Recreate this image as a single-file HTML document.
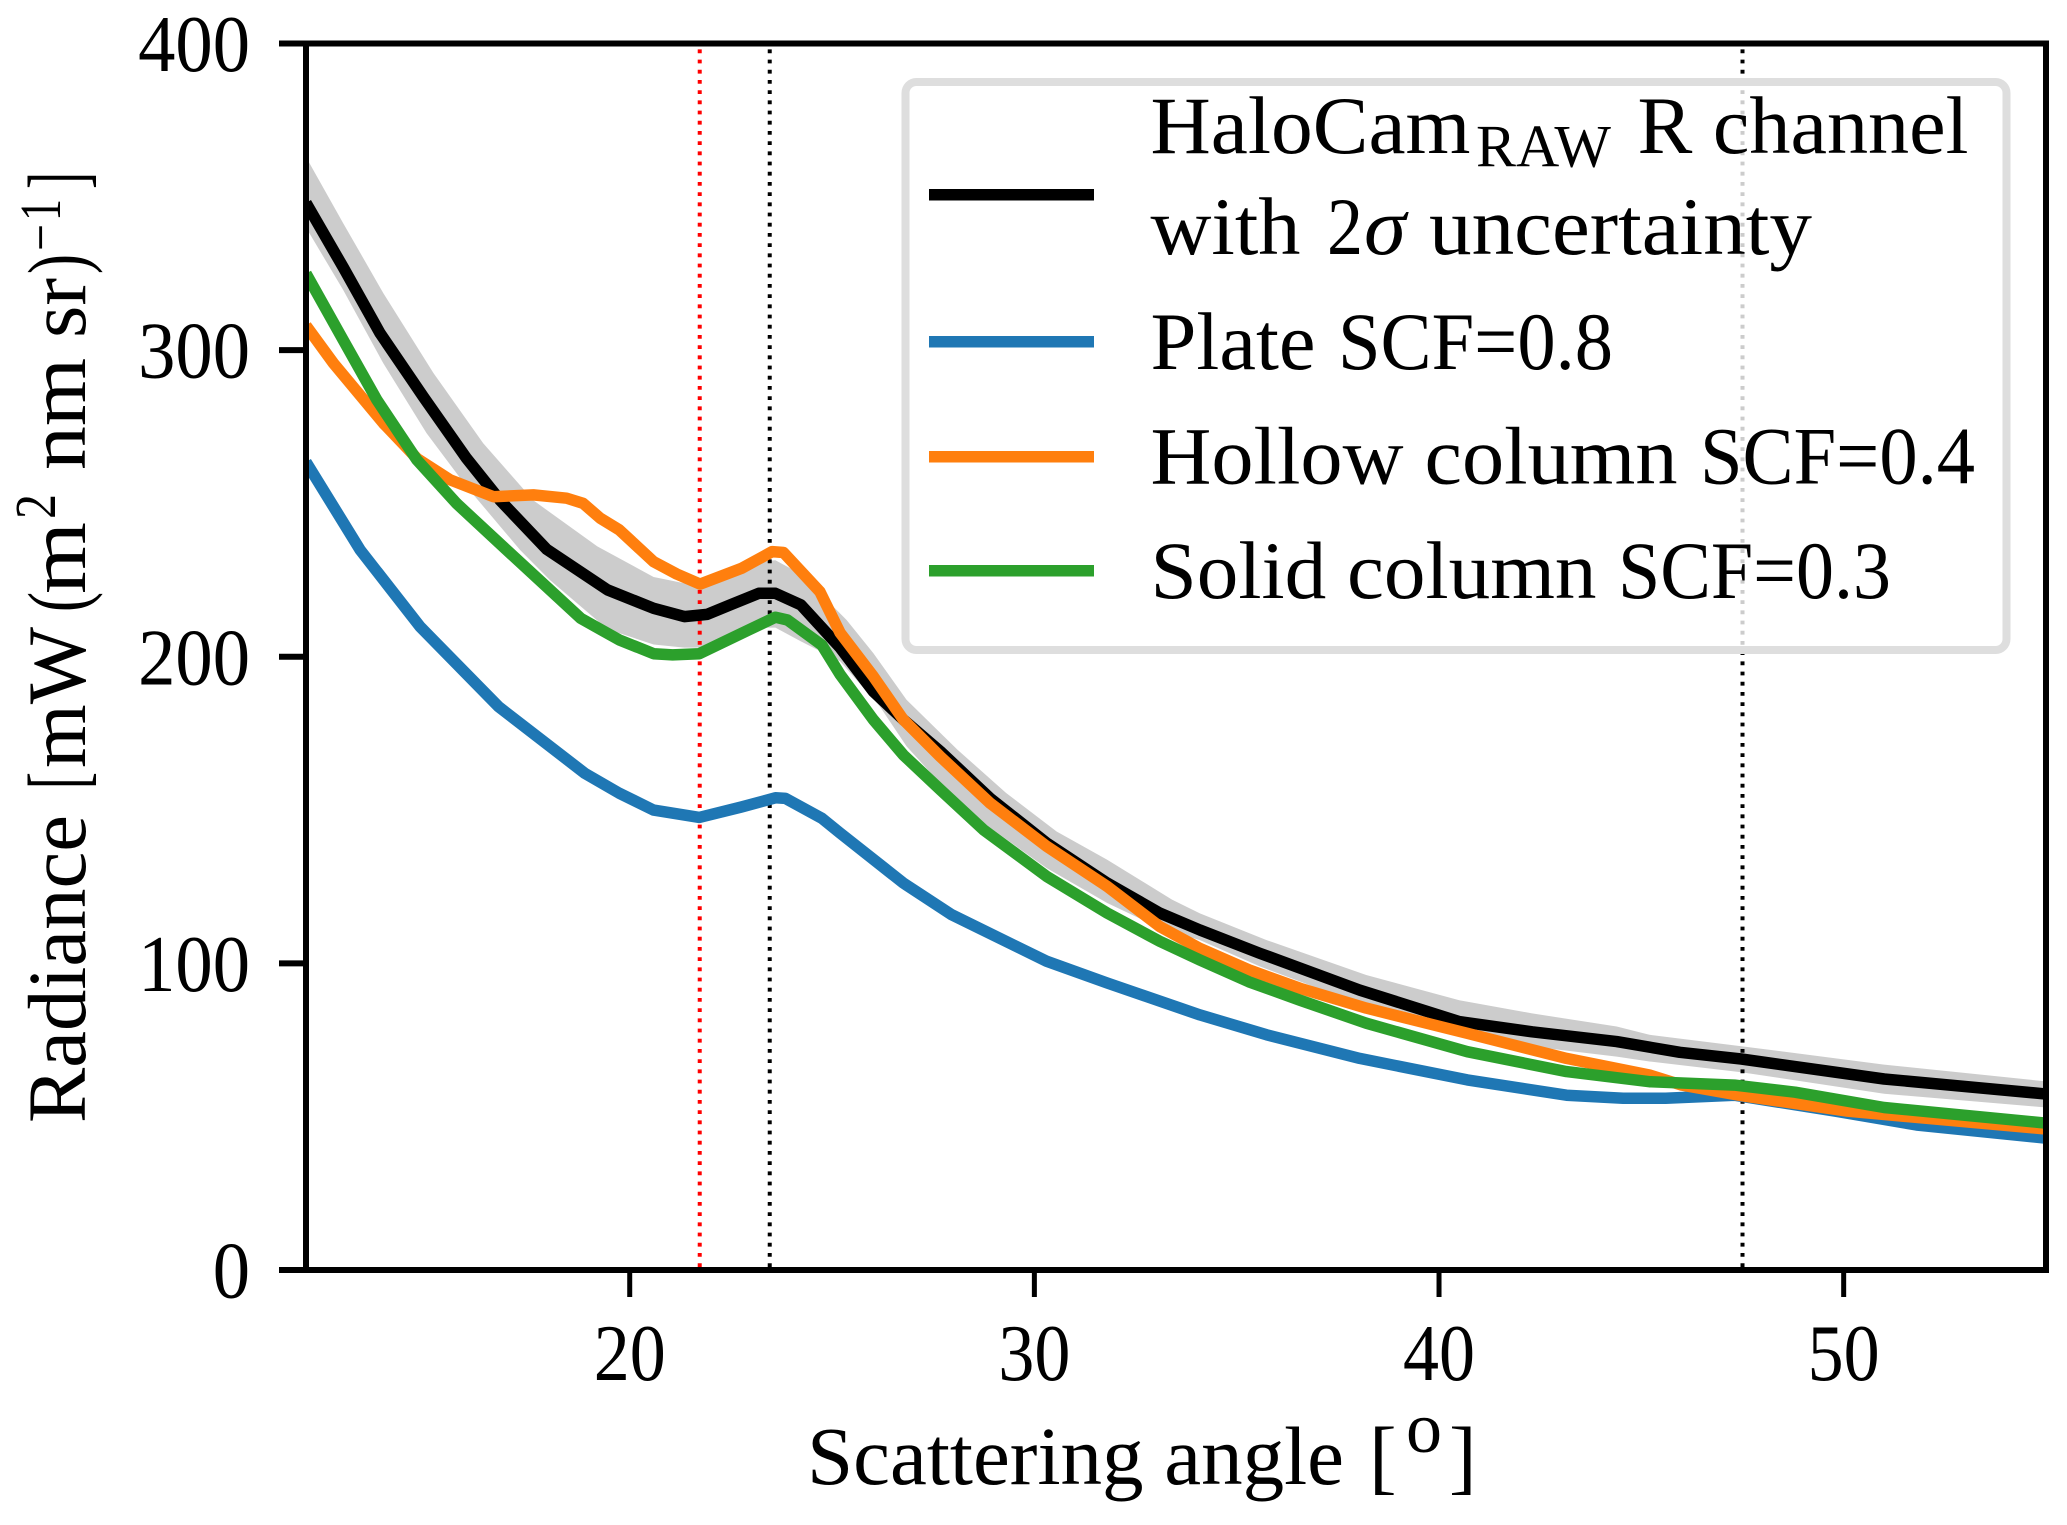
<!DOCTYPE html>
<html lang="en">
<head>
<meta charset="utf-8">
<title>HaloCam radiance versus scattering angle</title>
<style>
html,body{margin:0;padding:0;background:#fff;width:2067px;height:1525px;overflow:hidden}
svg{display:block}
text{font-family:"Liberation Serif",serif;fill:#000}
</style>
</head>
<body>
<svg id="chart" width="2067" height="1525" viewBox="0 0 2067 1525" xmlns="http://www.w3.org/2000/svg">
  <defs><clipPath id="plot-clip"><rect x="306" y="43.5" width="1740" height="1226.5"/></clipPath></defs>
  <rect x="0" y="0" width="2067" height="1525" fill="#fff"/>
  <g id="marks" clip-path="url(#plot-clip)"></g>
  <g id="axes"></g>

  <g font-size="83">
    <text x="807" y="1484" textLength="537" lengthAdjust="spacingAndGlyphs">Scattering angle</text>
    <text x="1369" y="1484">[</text>
    <text x="1406" y="1452" font-size="72">o</text>
    <text x="1449" y="1484">]</text>
  </g>

  <g font-size="83">
    <text transform="translate(85,1123) rotate(-90)" textLength="308" lengthAdjust="spacingAndGlyphs">Radiance</text>
    <text transform="translate(85,789) rotate(-90)" textLength="17" lengthAdjust="spacingAndGlyphs">[</text>
    <text transform="translate(85,768) rotate(-90)" textLength="141" lengthAdjust="spacingAndGlyphs">mW</text>
    <text transform="translate(85,612) rotate(-90)" textLength="20" lengthAdjust="spacingAndGlyphs">(</text>
    <text transform="translate(85,594) rotate(-90)" textLength="72" lengthAdjust="spacingAndGlyphs">m</text>
    <text transform="translate(55,519) rotate(-90)" font-size="58" textLength="25" lengthAdjust="spacingAndGlyphs">2</text>
    <text transform="translate(85,470) rotate(-90)" textLength="112" lengthAdjust="spacingAndGlyphs">nm</text>
    <text transform="translate(85,338) rotate(-90)" textLength="60" lengthAdjust="spacingAndGlyphs">sr</text>
    <text transform="translate(85,274) rotate(-90)" textLength="20" lengthAdjust="spacingAndGlyphs">)</text>
    <text transform="translate(60,251) rotate(-90)" font-size="58" textLength="27" lengthAdjust="spacingAndGlyphs">−</text>
    <text transform="translate(60,221) rotate(-90)" font-size="58" textLength="22" lengthAdjust="spacingAndGlyphs">1</text>
    <text transform="translate(85,189) rotate(-90)" textLength="17" lengthAdjust="spacingAndGlyphs">]</text>
  </g>

  <g>
    <rect x="905.5" y="82" width="1101" height="568" rx="11" ry="11" fill="#fff" fill-opacity="0.8" stroke="#dedede" stroke-width="8"/>
    <g font-size="82">
      <rect x="929" y="189" width="165" height="11.5" fill="#000"/>
      <text x="1150.5" y="153" textLength="320" lengthAdjust="spacingAndGlyphs">HaloCam</text>
      <text x="1476" y="166.5" font-size="60" textLength="135" lengthAdjust="spacingAndGlyphs">RAW</text>
      <text x="1637.5" y="153" textLength="331" lengthAdjust="spacingAndGlyphs">R channel</text>
      <text x="1150.5" y="254" textLength="150" lengthAdjust="spacingAndGlyphs">with</text>
      <text x="1327" y="254" textLength="36" lengthAdjust="spacingAndGlyphs">2</text>
      <text x="1364" y="254" font-style="italic" textLength="42" lengthAdjust="spacingAndGlyphs">σ</text>
      <text x="1429" y="254" textLength="383" lengthAdjust="spacingAndGlyphs">uncertainty</text>
    </g>
    <g font-size="82">
      <rect x="929" y="336" width="165" height="11.5" fill="#1f77b4"/>
      <text x="1150.5" y="369" textLength="165" lengthAdjust="spacingAndGlyphs">Plate</text>
      <text x="1338" y="369" textLength="275" lengthAdjust="spacingAndGlyphs">SCF=0.8</text>
    </g>
    <g font-size="82">
      <rect x="929" y="451" width="165" height="11.5" fill="#ff7f0e"/>
      <text x="1150.5" y="483.5" textLength="527" lengthAdjust="spacingAndGlyphs">Hollow column</text>
      <text x="1700" y="483.5" textLength="275" lengthAdjust="spacingAndGlyphs">SCF=0.4</text>
    </g>
    <g font-size="82">
      <rect x="929" y="565" width="165" height="11.5" fill="#2ca02c"/>
      <text x="1150.5" y="598" textLength="446" lengthAdjust="spacingAndGlyphs">Solid column</text>
      <text x="1618" y="598" textLength="273" lengthAdjust="spacingAndGlyphs">SCF=0.3</text>
    </g>
  </g>
</svg>
<script>
const xTickValues = [20, 30, 40, 50];
const yTickValues = [0, 100, 200, 300, 400];
const xTickLabels = ["20", "30", "40", "50"];
const yTickLabels = ["0", "100", "200", "300", "400"];

const redLineAngles = [21.73];
const blackLineAngles = [23.46, 47.5];

const haloAngles = [12, 12.92, 13.83, 14.9, 15.97, 16.8, 17.95, 19.45, 20.59, 21.35, 21.91, 22.48, 23.19, 23.6, 24.23, 25.2, 26.02, 26.76, 27.67, 28.9, 30.3, 31.8, 33.1, 34.09, 35.57, 38.04, 40.5, 42.3, 44.39, 45.95, 47.47, 51, 55];
const haloRadiance = [348, 327, 305.5, 284.8, 264.7, 251, 235, 221.8, 215.8, 213.1, 213.8, 216.9, 220.7, 220.7, 216.9, 203, 188.7, 179.5, 169.2, 153.9, 139.3, 126.2, 116.4, 110.9, 103.3, 91.3, 81, 77.7, 74.5, 71, 68.8, 62.3, 57.4];

const bandUpperAngles = [12, 12.92, 13.91, 15.15, 16.38, 17.62, 19.2, 20.59, 21.35, 21.91, 22.48, 23.19, 23.6, 24.23, 25.36, 26.02, 26.84, 28.1, 29.3, 30.55, 31.8, 33.4, 34.09, 35.74, 38.2, 40.5, 42.3, 44.39, 45.2, 47.47, 51, 55];
const bandUpper = [363, 341.4, 318.6, 292.5, 269.6, 251, 236, 226, 224, 224, 227, 231, 231.5, 227, 212, 201.2, 186, 169.7, 155.6, 143, 133.8, 120.8, 116.3, 107.6, 96.2, 88, 83.7, 79.4, 76.7, 73, 67, 61.5];
const bandLowerAngles = [12, 12.92, 13.91, 14.98, 15.97, 17.29, 18.03, 19.45, 20.59, 21.35, 21.91, 22.48, 23.19, 23.6, 24.23, 25.2, 26.18, 26.84, 27.67, 28.74, 30.3, 31.8, 33.1, 34.09, 35.57, 38, 40.5, 42.3, 44.39, 45.2, 47.47, 51, 55];
const bandLower = [340, 319.6, 295.7, 272.9, 255.5, 234.8, 225, 209, 204, 203, 203, 205, 209.5, 209.5, 205, 198.5, 183.8, 170.8, 158.8, 145.8, 131.1, 119.7, 111.5, 107.6, 99, 87, 78.8, 72.9, 69.6, 68, 64.5, 57.5, 53];

const plateAngles = [12, 13.34, 14.82, 16.76, 18.89, 19.74, 20.59, 21.72, 22.76, 23.6, 23.85, 24.75, 25.2, 26.76, 27.95, 30.3, 31.8, 33.6, 34.09, 35.74, 38.04, 40.7, 43.15, 44.55, 45.6, 47.3, 49.8, 51.8, 55];
const plateRadiance = [263.5, 234.8, 209.8, 183.7, 162, 155.5, 150, 147.6, 151, 154, 153.8, 147.3, 142.5, 126.2, 115.9, 100.7, 93.6, 85.4, 83.2, 76.7, 69, 62, 57, 56, 56, 57, 51.8, 47.3, 43];

const hollowAngles = [12, 12.68, 13.91, 14.74, 15.56, 16.63, 17.62, 18.44, 18.85, 19.27, 19.74, 20.59, 21.16, 21.74, 22.76, 23.52, 23.8, 24.7, 25.2, 26.02, 26.76, 27.67, 28.9, 30.3, 31.8, 33.1, 34.09, 35.3, 36.56, 38.2, 40.7, 43.15, 45.2, 46, 47.5, 50.1, 55];
const hollowRadiance = [308, 295.7, 276.2, 264.7, 257.7, 252.2, 252.8, 251.7, 250, 245.2, 241.4, 231, 227, 223.7, 228.8, 234.3, 234, 221.2, 207.8, 193.6, 179.5, 167.5, 152.3, 138.2, 125.1, 112, 104.9, 97.9, 91.9, 85.4, 77.2, 69, 63.6, 60.3, 56.8, 51.8, 46];

const solidAngles = [12, 12.92, 13.75, 14.74, 15.72, 16.96, 18.79, 19.74, 20.59, 21.06, 21.72, 22.76, 23.6, 23.9, 24.75, 25.2, 26.02, 26.76, 27.67, 28.74, 30.3, 31.8, 33.1, 34.09, 35.3, 36.56, 38.2, 40.7, 43.15, 45.2, 47.3, 48.8, 51, 55];
const solidRadiance = [325, 303.3, 283.8, 264.2, 250, 234.8, 212.5, 205.5, 201, 200.6, 201, 207.6, 212.9, 212, 203.8, 194.2, 179.5, 168, 156.7, 143.6, 128.4, 116.4, 107.2, 101.1, 94, 88, 80.5, 71.2, 64.7, 61.4, 60.3, 58, 53, 47.9];

const SVG_NS = "http://www.w3.org/2000/svg";
const xMin = 12, xMax = 55, yMin = 0, yMax = 400;
const plotLeft = 306, plotRight = 2046, plotTop = 43.5, plotBottom = 1270;
function xScale(v) { return plotLeft + (v - xMin) / (xMax - xMin) * (plotRight - plotLeft); }
function yScale(v) { return plotBottom - (v - yMin) / (yMax - yMin) * (plotBottom - plotTop); }
function make(tag, parent, attrs) {
  const el = document.createElementNS(SVG_NS, tag);
  for (const k in attrs) el.setAttribute(k, attrs[k]);
  parent.appendChild(el);
  return el;
}
function linePath(xs, ys) {
  return xs.map((x, i) => (i ? "L" : "M") + xScale(x).toFixed(1) + " " + yScale(ys[i]).toFixed(1)).join("");
}
const marks = document.getElementById("marks");
const axes = document.getElementById("axes");

const band = make("path", marks, {
  d: linePath(bandUpperAngles, bandUpper) + bandLowerAngles.slice().reverse().map((x, i) => "L" + xScale(x).toFixed(1) + " " + yScale(bandLower[bandLower.length - 1 - i]).toFixed(1)).join("") + "Z",
  fill: "#cccccc"
});



function addVLine(angle, color) {
  const l = make("line", marks, {
    x1: xScale(angle), x2: xScale(angle), y1: plotBottom - 3, y2: plotTop + 3,
    stroke: color, "stroke-width": 4, "stroke-dasharray": "3.8 6.4"
  });
  return l;
}
redLineAngles.forEach(function (a) {
  const l = addVLine(a, "#ff0000");
  
  
});
blackLineAngles.forEach(function (a) {
  const l = addVLine(a, "#000000");
  
  
});

function addSeries(xs, ys, color) {
  return make("path", marks, {
    d: linePath(xs, ys), fill: "none", stroke: color,
    "stroke-width": 11.5, "stroke-linejoin": "round", "stroke-linecap": "butt"
  });
}
const haloLine = addSeries(haloAngles, haloRadiance, "#000000");


const plateLine = addSeries(plateAngles, plateRadiance, "#1f77b4");


const hollowLine = addSeries(hollowAngles, hollowRadiance, "#ff7f0e");


const solidLine = addSeries(solidAngles, solidRadiance, "#2ca02c");



xTickValues.forEach(function (v, i) {
  const t = make("line", axes, { x1: xScale(v), x2: xScale(v), y1: plotBottom, y2: 1297, stroke: "#000", "stroke-width": 5 });
  
  
  const lbl = make("text", axes, { x: xScale(v), y: 1380, "font-size": 80, "text-anchor": "middle", textLength: xTickLabels[i].length * 36, lengthAdjust: "spacingAndGlyphs" });
  lbl.textContent = xTickLabels[i];
  
  
});
yTickValues.forEach(function (v, i) {
  const t = make("line", axes, { x1: 279, x2: plotLeft, y1: yScale(v), y2: yScale(v), stroke: "#000", "stroke-width": 6 });
  
  
  const lbl = make("text", axes, { x: 250, y: yScale(v) + 27.5, "font-size": 80, "text-anchor": "end", textLength: yTickLabels[i].length * 37.3, lengthAdjust: "spacingAndGlyphs" });
  lbl.textContent = yTickLabels[i];
  
  
});
const frame = make("rect", axes, {
  x: plotLeft, y: plotTop, width: plotRight - plotLeft, height: plotBottom - plotTop,
  fill: "none", stroke: "#000", "stroke-width": 6
});


</script>
</body>
</html>
